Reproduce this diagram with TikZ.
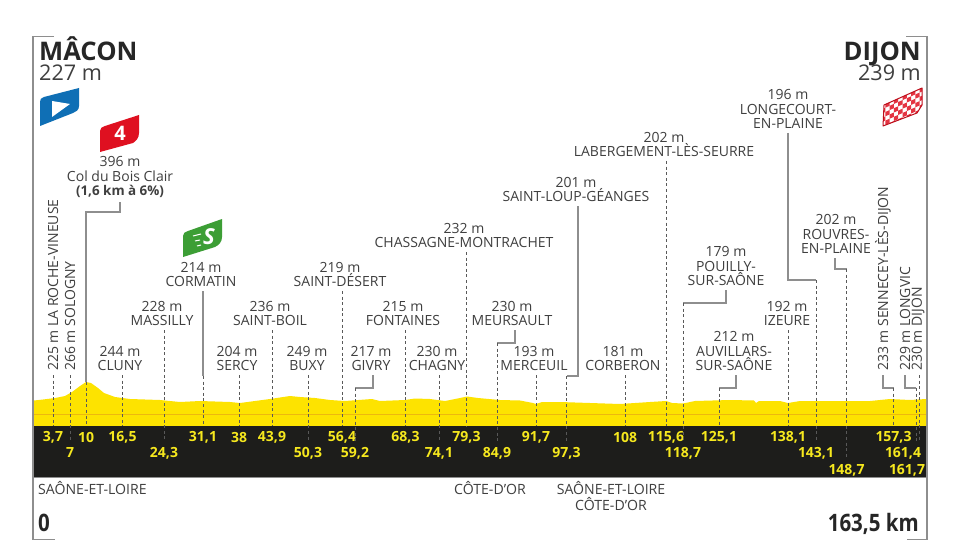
\documentclass[tikz,border=0pt]{standalone}
\usepackage{fontspec}
\usepackage{xcolor}
\setmainfont{Open Sans}
\newfontfamily\condfont[FakeStretch=0.855]{Open Sans}
\definecolor{txtgray}{HTML}{3F3F3F}
\definecolor{linegray}{HTML}{8E8E8E}
\definecolor{roadyellow}{HTML}{FDE300}
\definecolor{kmyellow}{HTML}{F6E81E}
\definecolor{stripe}{HTML}{EDB80E}
\definecolor{darkband}{HTML}{1D1D1B}
\definecolor{flagblue}{HTML}{0F6FB5}
\definecolor{flagred}{HTML}{DF1020}
\definecolor{flaggreen}{HTML}{3C9E35}
\usetikzlibrary{calc}

\begin{document}
\begin{tikzpicture}[x=1pt,y=-1pt,
      place/.style={font=\fontsize{14}{14.5}\selectfont, text=txtgray, align=center, anchor=south, inner xsep=0pt, inner ysep=4pt},
      side/.style={font=\fontsize{14}{14.5}\selectfont, text=txtgray, rotate=90, anchor=west, inner xsep=4pt, inner ysep=0pt},
      kmlabel/.style={font=\fontsize{14}{14}\selectfont\bfseries, text=kmyellow, inner xsep=0pt, inner ysep=0pt, minimum height=22pt},
      region/.style={font=\fontsize{14.1}{16}\selectfont, text=txtgray, align=center, inner sep=0pt},
      town/.style={font=\fontsize{25.6}{25.6}\selectfont\bfseries, text=black!85, inner sep=0pt},
      height/.style={font=\fontsize{21.6}{21.6}\selectfont, text=txtgray, inner sep=0pt},
      total/.style={font=\fontsize{24}{24}\selectfont\condfont\bfseries, text=black!85, inner sep=0pt},
      frame/.style={draw=linegray, line width=1.3pt},
      connector/.style={draw=linegray, line width=1.1pt},
      dropline/.style={draw=black!65, line width=.7pt, dash pattern=on 3pt off 2.6pt}]
      \useasboundingbox (0,0) rectangle (960,540);
      \fill[white] (0,0) rectangle (960,540);
      % frame
      \draw[frame] (54,36.5) -- (33,36.5) -- (33,540);
      \draw[frame] (906,36.5) -- (927,36.5) -- (927,540);
      \draw[linegray, line width=.6pt] (33,539.5) -- (55,539.5) (907,539.5) -- (927,539.5);
      % profile
      \fill[roadyellow] (34,426) -- (34,400.5) -- (43,399.5) -- (55,398) -- (65,396) -- (72,392)
        -- (80,386) -- (86,382) -- (91,383) -- (98,388) -- (104,393) -- (115,397) -- (130,399)
        -- (160,400) -- (180,402) -- (200,401) -- (230,402) -- (240,403) -- (255,401) -- (270,399)
        -- (290,396) -- (300,397) -- (315,398) -- (330,400) -- (345,401) -- (372,399) -- (380,401)
        -- (405,400) -- (415,398.5) -- (430,399) -- (445,401) -- (460,398) -- (467,396.5) -- (478,398)
        -- (500,400) -- (520,400.5) -- (533,403) -- (536,404) -- (542,402) -- (560,402) -- (590,403)
        -- (620,404) -- (650,402) -- (666,401) -- (672,403) -- (683,403.5) -- (695,401) -- (730,400)
        -- (754,400.5) -- (756,403) -- (759,401) -- (780,401) -- (788,403) -- (800,401) -- (840,401)
        -- (870,401) -- (890,399) -- (910,400) -- (926,399) -- (926,426) -- cycle;
      \draw[stripe, line width=.9pt] (34,414) -- (926,414);
      \fill[darkband] (34,426) rectangle (926,477);
      \draw[linegray, line width=.9pt] (34,477.5) -- (926,477.5);
      % kilometres
      \foreach \name/\km/\x/\y in {a/{3,7}/53/437, b/7/70/453, c/10/86/437, d/{16,5}/122.5/437,
          e/{24,3}/164/453, f/{31,1}/203/437, g/38/239/437, h/{43,9}/272/437, i/{50,3}/308/453,
          j/{56,4}/342/437, k/{59,2}/355/453, l/{68,3}/405.5/437, m/{74,1}/439/453, n/{79,3}/466.5/437,
          o/{84,9}/497/453, p/{91,7}/536/437, q/{97,3}/566.5/453, r/108/625/437, s/{115,6}/666/437,
          t/{118,7}/683/453, u/{125,1}/719/437, v/{138,1}/788/437, w/{143,1}/816/453, x/{148,7}/846.5/470,
          y/{157,3}/893.5/437, z/{161,4}/903/453, zz/{161,7}/907/470}
        \node[kmlabel] (km\name) at (\x,\y) {\km};
      \coordinate (endlongvic) at (916,442);
      \coordinate (enddijon) at (919,442);
      % places
      \foreach \name/\x/\y/\txt in {bois/120/202/{396 m\\Col du Bois Clair\\\textbf{\fontsize{13.4}{14.5}\selectfont(1,6 km à 6\%)}},
          cluny/120/375/{244 m\\CLUNY}, massilly/162/330/{228 m\\MASSILLY},
          cormatin/201/291/{214 m\\CORMATIN}, boil/270/330/{236 m\\SAINT-BOIL},
          sercy/237/375/{204 m\\SERCY}, buxy/307/375/{249 m\\BUXY},
          desert/340/291/{219 m\\SAINT-DÉSERT}, givry/371/375/{217 m\\GIVRY},
          fontaines/403/330/{215 m\\FONTAINES}, chagny/437/375/{230 m\\CHAGNY},
          chassagne/464/252/{232 m\\CHASSAGNE-MONTRACHET}, meursault/512/330/{230 m\\MEURSAULT},
          merceuil/534/375/{193 m\\MERCEUIL}, loup/576/206/{201 m\\SAINT-LOUP-GÉANGES},
          corberon/623/375/{181 m\\CORBERON}, labergement/664/161/{202 m\\LABERGEMENT-LÈS-SEURRE},
          pouilly/726/290/{179 m\\POUILLY-\\SUR-SAÔNE}, auvillars/734/375/{212 m\\AUVILLARS-\\SUR-SAÔNE},
          izeure/787/330/{192 m\\IZEURE}, longecourt/788/133/{196 m\\LONGECOURT-\\EN-PLAINE},
          rouvres/836/258/{202 m\\ROUVRES-\\EN-PLAINE}}
        \node[place] (\name) at (\x,\y) {\txt};
      \foreach \name/\x/\txt in {roche/53/{225 m LA ROCHE-VINEUSE}, sologny/70/{266 m SOLOGNY},
          sennecey/883/{233 m SENNECEY-LÈS-DIJON}, longvic/905/{229 m LONGVIC}, dijonp/918/{230 m DIJON}}
        \node[side] (\name) at (\x,375) {\txt};
      % straight drops
      \foreach \from/\to in {cluny.south/kmd, massilly.south/kme, boil.south/kmh, sercy.south/kmg,
          buxy.south/kmi, desert.south/kmj, fontaines.south/kml, chagny.south/kmm,
          chassagne.south/kmn, merceuil.south/kmp, corberon.south/kmr, labergement.south/kms,
          izeure.south/kmv, roche.west/kma, sologny.west/kmb}
        \draw[dropline] (\from -| \to.north) -- (\to.north);
      \draw[dropline] (dijonp.west -| enddijon) -- (enddijon);
      % elbows
      \foreach \from/\dx/\y/\to in {givry/2/388/kmk, meursault/3/343/kmo, loup/2/376/kmq,
          pouilly/0/303/kmt, auvillars/2/388/kmu, longecourt/0/280/kmw, rouvres/-1/269/kmx}{
        \draw[connector] ([xshift=\dx pt]\from.south) |- (\to.north |- 0,\y) coordinate (bend\to);
        \draw[dropline] (bend\to) -- (\to.north);
      }
      \draw[connector] (sennecey.west) |- (kmy.north |- 0,388) coordinate (bendkmy);
      \draw[dropline] (bendkmy) -- (kmy.north);
      \draw[connector] (longvic.west) |- (endlongvic |- 0,388) coordinate (bendlongvic);
      \draw[dropline] (bendlongvic) -- (endlongvic);
      % solid parts
      \draw[connector] (bois.south) |- (kmc.north |- 0,212) -- (kmc.north |- 0,382) coordinate (footbois);
      \draw[dropline] (footbois) -- (kmc.north);
      \draw[connector] (cormatin.south -| kmf.north) -- (kmf.north |- 0,376) coordinate (footcormatin);
      \draw[dropline] (footcormatin) -- (kmf.north);
      % flags
      \fill[flagblue] (40,102) .. controls (40,99) and (41,98) .. (44,97) -- (79,88) -- (79,106)
        .. controls (79,110) and (76,112) .. (73,113) -- (40,126) -- cycle;
      \fill[white] (52,101) -- (70,104) -- (52,117) -- cycle;
      \fill[flagred] (100,152) -- (100,131) .. controls (100,128) and (102,127) .. (105,126) -- (139,115)
        -- (139,133) .. controls (139,138) and (136,141) .. (133,143) -- cycle;
      \node[font=\fontsize{20}{20}\selectfont\bfseries, text=white, inner sep=0pt] (cat) at (120,133) {4};
      \fill[flaggreen] (183,257) -- (183,236) .. controls (183,233) and (185,232) .. (188,231) -- (222,219)
        -- (222,237) .. controls (222,242) and (219,245) .. (215,247) -- cycle;
      \node[font=\fontsize{22}{22}\selectfont\bfseries\itshape, text=white, inner sep=0pt] (sprint) at (209,237) {S};
      \draw[white, line width=1pt] (193,236) -- (201,234) (195,241) -- (200,240) (197,246) -- (201,245);
      \begin{scope}
        \clip (883,126) -- (884,105) -- (922,88) -- (922,105) -- (917,113) -- cycle;
        \fill[white] (880,85) rectangle (925,130);
        \foreach \i in {0,...,10}{
          \foreach \j in {0,...,10}{
            \pgfmathparse{int(mod(\i+\j,2))}
            \ifnum\pgfmathresult=0
              \fill[flagred!85!white] ({881+\i*4.3},{101+\j*4.3-\i*1.9}) -- ++(4.3,-1.9) -- ++(0,4.3) -- ++(-4.3,1.9) -- cycle;
            \fi
          }
        }
      \end{scope}
      \draw[flagred!85!black, line width=1pt, line join=round] (883,126) -- (884,105) -- (922,88) -- (922,105) -- (917,113) -- cycle;
      % towns
      \node[town, anchor=base west] (macon) at (39,61) {MÂCON};
      \node[height, anchor=base west] (maconalt) at (39,81) {227 m};
      \node[town, anchor=base east] (dijon) at (921,61) {DIJON};
      \node[height, anchor=base east] (dijonalt) at (921,81) {239 m};
      % departments
      \node[region, anchor=base west] (saone) at (38,494) {SAÔNE-ET-LOIRE};
      \node[region, anchor=base] (cote) at (490,494) {CÔTE-D'OR};
      \node[region, anchor=base] (border) at (611,510) {SAÔNE-ET-LOIRE\\CÔTE-D'OR};
      \node[total, anchor=base west] (start) at (38,531) {0};
      \node[total, anchor=base east] (finish) at (919,531) {163,5 km};
    \end{tikzpicture}
\end{document}
